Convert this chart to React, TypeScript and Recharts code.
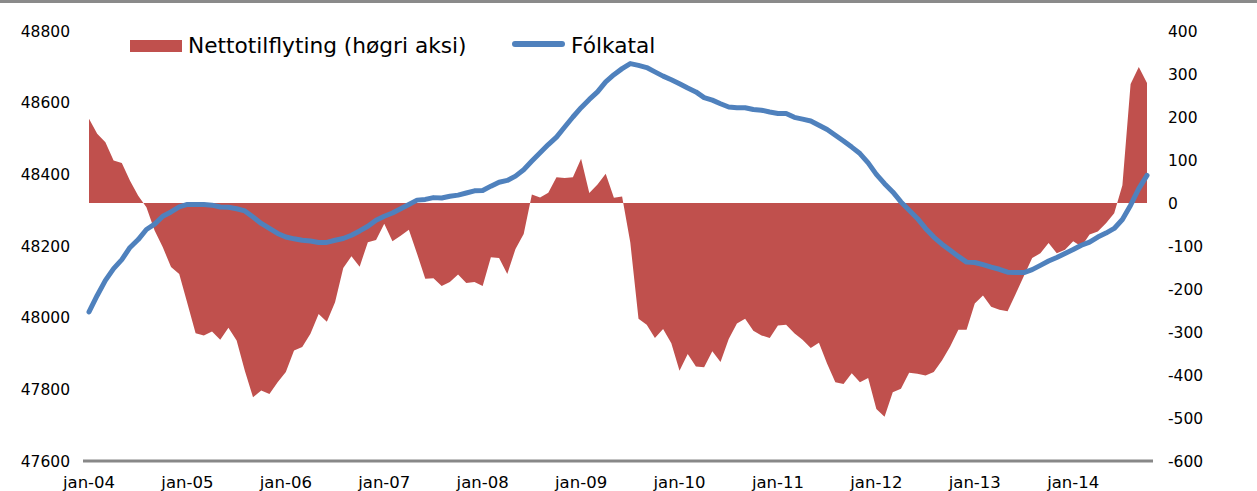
import { ComposedChart, Area, Line, XAxis, YAxis } from "recharts";

// monthly, jan-04 .. okt-14
const netto = [
  196, 161, 141, 99, 93, 52, 17, -10, -64, -103,
  -149, -165, -234, -303, -308, -299, -318, -290, -320, -390,
  -452, -436, -444, -417, -393, -343, -335, -304, -258, -276,
  -231, -151, -124, -148, -91, -86, -48, -89, -76, -62,
  -118, -176, -175, -193, -184, -166, -186, -184, -193, -126,
  -128, -165, -107, -72, 20, 13, 24, 60, 58, 60,
  103, 23, 43, 68, 12, 15, -92, -269, -283, -314,
  -293, -326, -390, -351, -380, -382, -345, -370, -316, -280,
  -269, -297, -308, -314, -285, -283, -303, -318, -337, -325,
  -374, -417, -421, -396, -417, -407, -479, -497, -440, -432,
  -395, -397, -401, -393, -366, -334, -295, -295, -234, -215,
  -241, -248, -252, -211, -169, -128, -117, -93, -117, -109,
  -89, -101, -73, -66, -47, -24, 41, 277, 316, 279,
];

const folkatal = [
  48016, 48062, 48104, 48137, 48162, 48196, 48218, 48246, 48261, 48283,
  48295, 48309, 48316, 48316, 48316, 48314, 48309, 48308, 48304, 48298,
  48281, 48263, 48249, 48235, 48225, 48220, 48216, 48214, 48210, 48210,
  48216, 48221, 48230, 48242, 48255, 48272, 48283, 48292, 48304, 48316,
  48328, 48330, 48335, 48334, 48339, 48342, 48348, 48354, 48355, 48367,
  48378, 48383, 48395, 48413, 48437, 48460, 48483, 48504, 48532, 48560,
  48586, 48609, 48630, 48658, 48678, 48695, 48709, 48704, 48698, 48686,
  48674, 48664, 48653, 48641, 48630, 48614, 48607, 48597, 48588, 48586,
  48586, 48581, 48579, 48574, 48570, 48570, 48559, 48554, 48549, 48537,
  48525, 48509, 48493, 48476, 48458, 48432, 48400, 48374, 48351, 48323,
  48300, 48277, 48249, 48225, 48205, 48188, 48171, 48155, 48154, 48148,
  48141, 48135, 48127, 48126, 48126, 48134, 48146, 48158, 48168, 48179,
  48190, 48202, 48211, 48225, 48236, 48249, 48274, 48314, 48360, 48397,
];

const yearLabels = ["jan-04", "jan-05", "jan-06", "jan-07", "jan-08", "jan-09", "jan-10", "jan-11", "jan-12", "jan-13", "jan-14"];
const xTicks = yearLabels.map((_, k) => k * 12);
const leftTicks = [47600, 47800, 48000, 48200, 48400, 48600, 48800];
const rightTicks = [-600, -500, -400, -300, -200, -100, 0, 100, 200, 300, 400];

const RED = "#C0504D";
const BLUE = "#4F81BD";
const FONT = "'DejaVu Sans', Verdana, sans-serif";

const data = netto.map((v, i) => ({ i, netto: v, folkatal: folkatal[i] }));

export default function App() {
  return (
    <div style={{ position: "fixed", left: 0, top: 0, width: 1257, height: 491, background: "#fff", fontFamily: FONT, overflow: "hidden" }}>
      <div style={{ position: "absolute", left: 0, top: 0, width: 1257, height: 3, background: "#8a8a8a" }} />

      <ComposedChart width={1257} height={491} data={data} margin={{ top: 31, right: 0, bottom: 0, left: 0 }}>
        <XAxis
          dataKey="i"
          type="number"
          domain={[0, 129]}
          ticks={xTicks}
          interval={0}
          tickFormatter={(v) => yearLabels[v / 12] ?? ""}
          padding={{ left: 6, right: 6 }}
          height={30}
          tickLine={false}
          tickSize={0}
          tickMargin={15}
          axisLine={{ stroke: "#888888", strokeWidth: 3 }}
          tick={{ fill: "#000", fontSize: 16.5, fontFamily: FONT }}
        />
        <YAxis
          yAxisId="left"
          orientation="left"
          domain={[47600, 48800]}
          ticks={leftTicks}
          interval={0}
          width={83}
          axisLine={false}
          tickLine={false}
          tickSize={0}
          tickMargin={13}
          tick={{ fill: "#000", fontSize: 15.5, fontFamily: FONT }}
        />
        <YAxis
          yAxisId="right"
          orientation="right"
          domain={[-600, 400]}
          ticks={rightTicks}
          interval={0}
          width={104}
          axisLine={false}
          tickLine={false}
          tickSize={0}
          tickMargin={15}
          tick={{ fill: "#000", fontSize: 15.5, fontFamily: FONT }}
        />
        <Area
          yAxisId="right"
          dataKey="netto"
          type="linear"
          baseValue={0}
          fill={RED}
          fillOpacity={1}
          stroke="none"
          isAnimationActive={false}
        />
        <Line
          yAxisId="left"
          dataKey="folkatal"
          type="linear"
          stroke={BLUE}
          strokeWidth={5}
          strokeLinecap="round"
          strokeLinejoin="round"
          dot={false}
          activeDot={false}
          isAnimationActive={false}
        />
      </ComposedChart>

      <div style={{ position: "absolute", left: 130, top: 40, width: 52, height: 12, background: RED }} />
      <div style={{ position: "absolute", left: 188, top: 34, fontSize: 21.7, lineHeight: "24px", color: "#000", whiteSpace: "nowrap" }}>
        Nettotilflyting (høgri aksi)
      </div>
      <div style={{ position: "absolute", left: 512, top: 41, width: 53, height: 6, borderRadius: 3, background: BLUE }} />
      <div style={{ position: "absolute", left: 571, top: 34, fontSize: 21.7, lineHeight: "24px", color: "#000", whiteSpace: "nowrap" }}>
        Fólkatal
      </div>
    </div>
  );
}
